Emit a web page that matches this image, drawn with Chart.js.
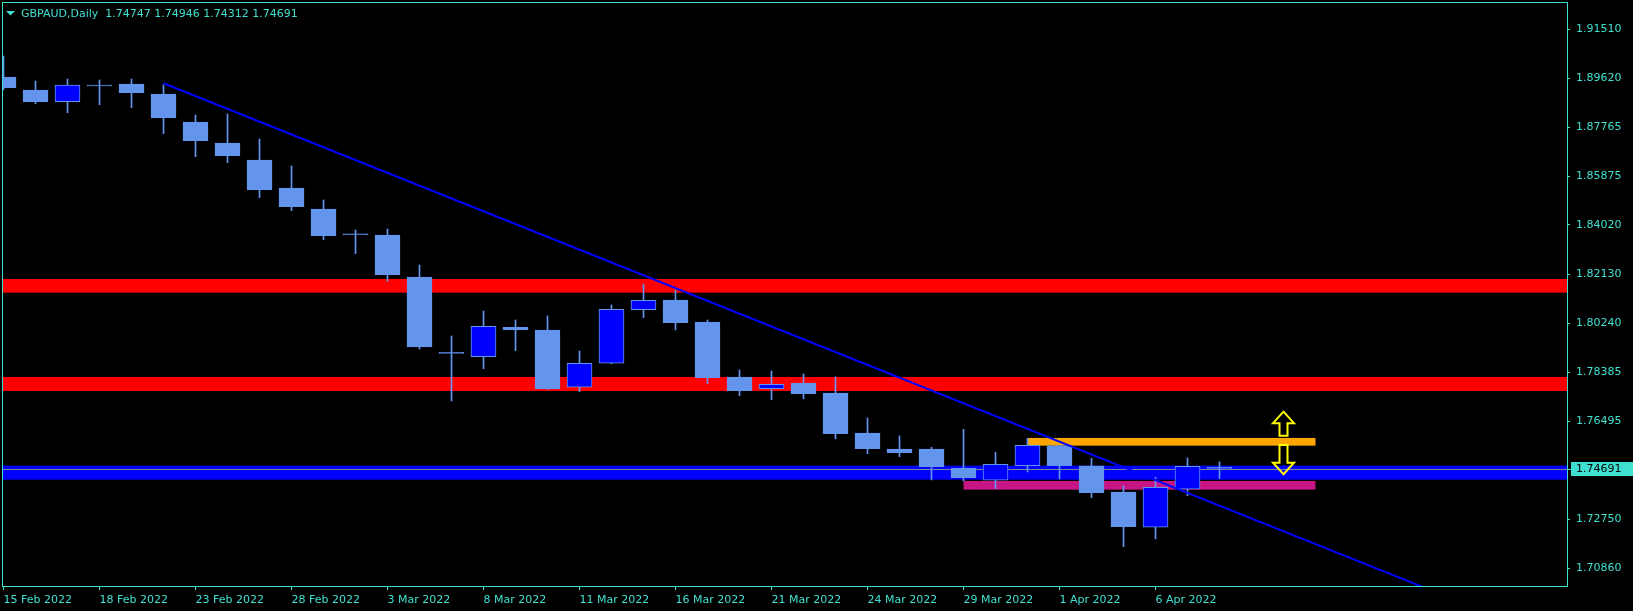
<!DOCTYPE html>
<html>
<head>
<meta charset="utf-8">
<script src="https://cdn.jsdelivr.net/npm/chart.js@4.4.1/dist/chart.umd.min.js"></script>
<style>
  html, body { margin: 0; padding: 0; background: #000; }
  #wrap { width: 1633px; height: 611px; }
</style>
</head>
<body>
<div id="wrap"><canvas id="priceChart" width="1633" height="611"></canvas></div>
<script>
const dates = [
    '15 Feb 2022', '16 Feb 2022', '17 Feb 2022', '18 Feb 2022', '21 Feb 2022', '22 Feb 2022',
    '23 Feb 2022', '24 Feb 2022', '25 Feb 2022', '28 Feb 2022', '1 Mar 2022', '2 Mar 2022',
    '3 Mar 2022', '4 Mar 2022', '7 Mar 2022', '8 Mar 2022', '9 Mar 2022', '10 Mar 2022',
    '11 Mar 2022', '14 Mar 2022', '15 Mar 2022', '16 Mar 2022', '17 Mar 2022', '18 Mar 2022',
    '21 Mar 2022', '22 Mar 2022', '23 Mar 2022', '24 Mar 2022', '25 Mar 2022', '28 Mar 2022',
    '29 Mar 2022', '30 Mar 2022', '31 Mar 2022', '1 Apr 2022', '4 Apr 2022', '5 Apr 2022',
    '6 Apr 2022', '7 Apr 2022', '8 Apr 2022'
];
const opens = [
    1.89680, 1.89183, 1.88735, 1.89338, 1.89412, 1.89030, 1.87958, 1.87154, 1.86503, 1.85431,
    1.84627, 1.83646, 1.83632, 1.82024, 1.79106, 1.78974, 1.80099, 1.79996, 1.77802, 1.78721,
    1.80773, 1.81144, 1.80302, 1.78196, 1.77749, 1.77967, 1.77584, 1.76053, 1.75440, 1.75440,
    1.74702, 1.74242, 1.74801, 1.75567, 1.74790, 1.73794, 1.72443, 1.73898, 1.74747
];
const highs = [
    1.90484, 1.89527, 1.89604, 1.89566, 1.89604, 1.89374, 1.88226, 1.88264, 1.87307, 1.86274,
    1.84972, 1.83824, 1.83862, 1.82484, 1.79766, 1.80723, 1.80378, 1.80532, 1.79192, 1.80953,
    1.81756, 1.81527, 1.80378, 1.78464, 1.78426, 1.78311, 1.78196, 1.76627, 1.75938, 1.75505,
    1.76194, 1.75314, 1.75850, 1.75580, 1.75084, 1.74024, 1.74357, 1.75096, 1.74946
];
const lows = [
    1.89183, 1.88658, 1.88314, 1.88620, 1.88505, 1.87510, 1.86630, 1.86400, 1.85060, 1.84562,
    1.83452, 1.82916, 1.81860, 1.79268, 1.77278, 1.78514, 1.79203, 1.77710, 1.77634, 1.78700,
    1.80466, 1.79996, 1.77940, 1.77481, 1.77327, 1.77354, 1.75823, 1.75260, 1.75146, 1.74254,
    1.74215, 1.73921, 1.74560, 1.74292, 1.73576, 1.71700, 1.71995, 1.73653, 1.74312
];
const closes = [
    1.89271, 1.88735, 1.89374, 1.89334, 1.89079, 1.88122, 1.87242, 1.86668, 1.85366, 1.84716,
    1.83605, 1.83642, 1.82112, 1.79345, 1.79102, 1.80137, 1.79996, 1.77737, 1.78721, 1.80788,
    1.81133, 1.80275, 1.78170, 1.77672, 1.77917, 1.77546, 1.76026, 1.75452, 1.75299, 1.74763,
    1.74342, 1.74855, 1.75582, 1.74801, 1.73767, 1.72466, 1.73974, 1.74778, 1.74691
];

const priceTicks = [1.91510, 1.89620, 1.87765, 1.85875, 1.84020, 1.82130, 1.80240, 1.78385, 1.76495, 1.72750, 1.70860];
const dateTickIdx = [0, 3, 6, 9, 12, 15, 18, 21, 24, 27, 30, 33, 36];

// horizontal zones: [low, high], bar range (null = whole width)
const redZones = [[1.81424, 1.81948], [1.77661, 1.78196]];
const blueZone = [1.74264, 1.74801];
const orangeZone = [1.75567, 1.75862];
const orangeBars = [32, 41];
const magentaZone = [1.73882, 1.74215];
const magentaBars = [30, 41];
const bidPrice = 1.74691;

// trend line anchors (bar index, price)
const trendX = [5, 48];
const trendY = [1.89439, 1.68369];

// arrows at bar 40: up arrow [tip, tail], down arrow [tail, tip]
const arrowBar = 40;
const upArrow = [1.76867, 1.75948];
const downArrow = [1.75593, 1.74471];

const TURQ = '#40E0D0';
const CANDLE = '#6495ED';

const bodyData = opens.map((o, i) => ({ x: i, y: [o, closes[i]] }));
const wickData = lows.map((l, i) => ({ x: i, y: [l, highs[i]] }));
const bodyColors = opens.map((o, i) => closes[i] > o ? '#0000FF' : CANDLE);

const backdrop = {
    id: 'backdrop',
    beforeDraw(chart) {
        const ctx = chart.ctx;
        ctx.save();
        ctx.fillStyle = '#000';
        ctx.fillRect(0, 0, chart.width, chart.height);
        ctx.restore();
    }
};

const zones = {
    id: 'zones',
    beforeDatasetsDraw(chart) {
        const { ctx, chartArea: a, scales: { x, y } } = chart;
        ctx.save();
        ctx.beginPath();
        ctx.rect(a.left, a.top, a.right - a.left, a.bottom - a.top);
        ctx.clip();
        const band = (range, bars, color) => {
            const left = bars ? x.getPixelForValue(bars[0]) : a.left;
            const right = bars ? x.getPixelForValue(bars[1]) : a.right;
            const top = y.getPixelForValue(range[1]);
            const bottom = y.getPixelForValue(range[0]);
            ctx.fillStyle = color;
            ctx.fillRect(left, top, right - left, bottom - top);
        };
        redZones.forEach(z => band(z, null, '#FF0000'));
        band(blueZone, null, '#0000FF');
        band(orangeZone, orangeBars, '#FFA500');
        band(magentaZone, magentaBars, '#C71585');
        const by = Math.round(y.getPixelForValue(bidPrice)) + 0.5;
        ctx.strokeStyle = '#778899';
        ctx.lineWidth = 1;
        ctx.beginPath();
        ctx.moveTo(a.left, by);
        ctx.lineTo(a.right, by);
        ctx.stroke();
        ctx.restore();
    }
};

const overlay = {
    id: 'overlay',
    afterDraw(chart) {
        const { ctx, chartArea: a, scales: { x, y } } = chart;
        ctx.save();

        // frame
        ctx.strokeStyle = TURQ;
        ctx.lineWidth = 1;
        ctx.strokeRect(a.left - 0.5, a.top - 0.5, a.right - a.left + 1, a.bottom - a.top + 1);

        // arrows
        const ax = x.getPixelForValue(arrowBar);
        const arrow = (tipY, tailY) => {
            const dir = tipY < tailY ? 1 : -1;
            const headH = 11.5 * dir;
            ctx.beginPath();
            ctx.moveTo(ax, tipY);
            ctx.lineTo(ax + 10.5, tipY + headH);
            ctx.lineTo(ax + 4, tipY + headH);
            ctx.lineTo(ax + 4, tailY);
            ctx.lineTo(ax - 4, tailY);
            ctx.lineTo(ax - 4, tipY + headH);
            ctx.lineTo(ax - 10.5, tipY + headH);
            ctx.closePath();
            ctx.stroke();
        };
        ctx.strokeStyle = '#FFFF00';
        ctx.lineWidth = 2;
        ctx.lineJoin = 'miter';
        arrow(y.getPixelForValue(upArrow[0]), y.getPixelForValue(upArrow[1]));
        arrow(y.getPixelForValue(downArrow[1]), y.getPixelForValue(downArrow[0]));

        // current price label
        const py = Math.round(y.getPixelForValue(bidPrice));
        ctx.fillStyle = TURQ;
        ctx.fillRect(a.right + 4, py - 7, chart.width - a.right - 4, 14);
        ctx.fillRect(a.right, py, 4, 1);
        ctx.fillStyle = '#000';
        ctx.font = '11px "DejaVu Sans"';
        ctx.textBaseline = 'middle';
        ctx.textAlign = 'left';
        ctx.fillText(bidPrice.toFixed(5), a.right + 9, py + 0.5);

        // header
        ctx.fillStyle = TURQ;
        ctx.beginPath();
        ctx.moveTo(6, 11);
        ctx.lineTo(15, 11);
        ctx.lineTo(10.5, 15.5);
        ctx.closePath();
        ctx.fill();
        const last = opens.length - 1;
        const head = 'GBPAUD,Daily  ' + [opens[last], highs[last], lows[last], closes[last]].map(v => v.toFixed(5)).join(' ');
        ctx.textBaseline = 'alphabetic';
        ctx.fillText(head, 21, 17);
        ctx.restore();
    }
};

Chart.defaults.font.family = '"DejaVu Sans"';
Chart.defaults.font.size = 11;
Chart.defaults.color = TURQ;

const ctx = document.getElementById('priceChart').getContext('2d');
new Chart(ctx, {
    type: 'bar',
    data: {
        datasets: [{
            type: 'line',
            label: 'trend',
            data: trendX.map((v, i) => ({ x: v, y: trendY[i] })),
            borderColor: '#0000FF',
            borderWidth: 2,
            pointRadius: 0,
            clip: 0,
            order: 0
        }, {
            label: 'body',
            data: bodyData,
            backgroundColor: bodyColors,
            borderColor: CANDLE,
            borderWidth: 1,
            borderSkipped: false,
            barThickness: 25,
            minBarLength: 1,
            grouped: false,
            order: 1
        }, {
            label: 'wick',
            data: wickData,
            backgroundColor: CANDLE,
            borderWidth: 0,
            barThickness: 1,
            grouped: false,
            order: 2
        }]
    },
    options: {
        responsive: false,
        animation: false,
        devicePixelRatio: 1,
        layout: { padding: { left: 3, top: 3, right: 0, bottom: 0 } },
        plugins: {
            legend: { display: false },
            tooltip: { enabled: false }
        },
        scales: {
            x: {
                type: 'linear',
                offset: false,
                min: -0.015625,
                max: 48.859375,
                afterFit: (s) => { s.height = 25; s.paddingLeft = 0; s.paddingRight = 0; },
                afterBuildTicks: (s) => { s.ticks = dateTickIdx.map(v => ({ value: v })); },
                grid: {
                    offset: false,
                    drawOnChartArea: false,
                    color: TURQ,
                    tickLength: 4
                },
                border: { color: TURQ },
                ticks: {
                    autoSkip: false,
                    maxRotation: 0,
                    align: 'start',
                    padding: 4,
                    color: TURQ,
                    callback: (v) => dates[v]
                }
            },
            y: {
                position: 'right',
                min: 1.70194,
                max: 1.92513,
                afterFit: (s) => { s.width = 66; s.paddingTop = 0; s.paddingBottom = 0; },
                afterBuildTicks: (s) => { s.ticks = priceTicks.map(v => ({ value: v })); },
                grid: {
                    drawOnChartArea: false,
                    color: TURQ,
                    tickLength: 3
                },
                border: { color: TURQ },
                ticks: {
                    padding: 6,
                    color: TURQ,
                    callback: (v) => v.toFixed(5)
                }
            }
        }
    },
    plugins: [backdrop, zones, overlay]
});
</script>
</body>
</html>
